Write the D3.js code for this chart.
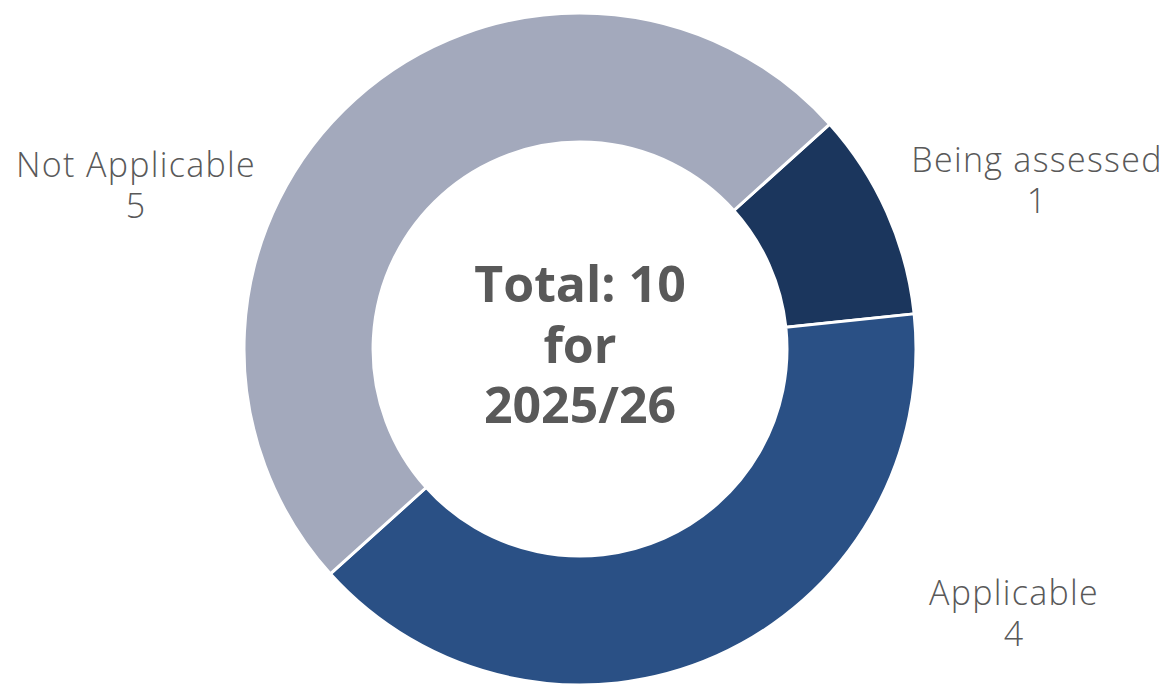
<!DOCTYPE html>
<html>
<head>
<meta charset="utf-8">
<script src="https://cdn.jsdelivr.net/npm/d3@7"></script>
<style>
  html, body { margin: 0; padding: 0; background: #fff; }
  svg { display: block; }
</style>
</head>
<body>
<div id="chart"></div>
<script>
// data
var categories = ['Being assessed', 'Applicable', 'Not Applicable'];
var values = [1, 4, 5];
var colors = ['#1b365d', '#2a5085', '#a3a9bc'];
var centerLines = ['Total: 10', 'for', '2025/26'];

var width = 1167, height = 684;
var cx = 580, cy = 349;
var outerR = 336, innerR = 207;

// where each outside label is anchored (centre of first line)
var labelAt = {
    'Being assessed': [1037, 172],
    'Applicable':     [1014, 605],
    'Not Applicable': [136, 177]
};

var svg = d3.select('#chart').append('svg')
    .attr('width', width)
    .attr('height', height);

var rows = categories.map(function(c, i) {
    return { label: c, value: values[i], color: colors[i] };
});

var start = 48 * Math.PI / 180;
var pie = d3.pie()
    .sort(null)
    .value(function(d) { return d.value; })
    .startAngle(start)
    .endAngle(start + 2 * Math.PI);

var arc = d3.arc().innerRadius(innerR).outerRadius(outerR);

var g = svg.append('g').attr('transform', 'translate(' + cx + ',' + cy + ')');

g.selectAll('path.slice')
    .data(pie(rows))
    .enter()
        .append('path')
        .attr('class', 'slice')
        .attr('d', arc)
        .attr('fill', function(d) { return d.data.color; })
        .attr('stroke', '#fff')
        .attr('stroke-width', 3);

// centre text
g.selectAll('text.center')
    .data(centerLines)
    .enter()
        .append('text')
        .attr('class', 'center')
        .attr('x', 0)
        .attr('y', function(d, i) { return -47 + i * 60.5; })
        .attr('text-anchor', 'middle')
        .attr('font-family', 'Open Sans, Noto Sans, sans-serif')
        .attr('font-weight', 700)
        .attr('font-size', 50)
        .attr('fill', '#595959')
        .text(function(d) { return d; });

// outside labels
var lab = svg.selectAll('text.lab')
    .data(rows)
    .enter()
        .append('text')
        .attr('class', 'lab')
        .attr('text-anchor', 'middle')
        .attr('font-family', 'Open Sans, Noto Sans, sans-serif')
        .attr('font-weight', 300)
        .attr('font-size', 34)
        .attr('letter-spacing', 1.3)
        .attr('fill', '#595959');

lab.append('tspan')
    .attr('x', function(d) { return labelAt[d.label][0]; })
    .attr('y', function(d) { return labelAt[d.label][1]; })
    .text(function(d) { return d.label; });

lab.append('tspan')
    .attr('x', function(d) { return labelAt[d.label][0]; })
    .attr('dy', 41)
    .text(function(d) { return d.value; });
</script>
</body>
</html>
